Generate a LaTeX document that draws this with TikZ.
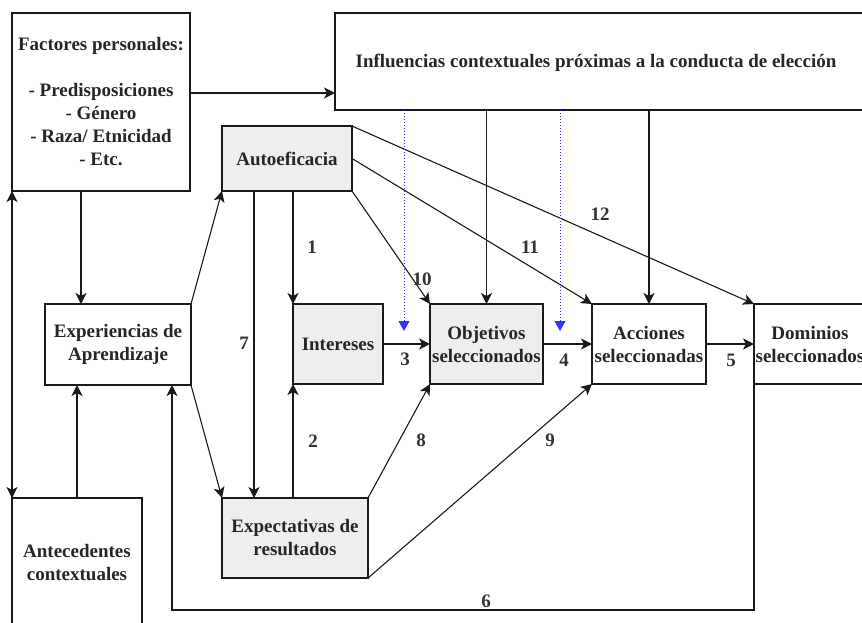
\documentclass[tikz,border=0pt]{standalone}
\usepackage{fontspec}
\setmainfont{Liberation Serif}
\usetikzlibrary{arrows.meta,calc}
\definecolor{boxgray}{HTML}{EEEEEE}
\definecolor{lineclr}{HTML}{1A1A1A}
\definecolor{dotblue}{HTML}{3333FF}
\tikzset{
  box/.style={draw=lineclr, line width=1.1pt, inner sep=0pt, outer sep=0pt, align=center,
    font=\bfseries\fontsize{19}{23}\selectfont, text=black!85},
  graybox/.style={box, fill=boxgray},
  tip/.style={},
  arr/.style={draw=lineclr, line width=1.1pt, -{Stealth[length=11pt,width=11pt,inset=3pt]}},
  dblarr/.style={draw=lineclr, line width=1.1pt, {Stealth[length=11pt,width=11pt,inset=3pt]}-{Stealth[length=11pt,width=11pt,inset=3pt]}},
  bluearr/.style={draw=dotblue, line width=1pt, dotted, -{Triangle[length=10pt,width=11pt]}},
  lbl/.style={inner sep=0pt, font=\bfseries\fontsize{19}{23}\selectfont, text=black!80},
}
\begin{document}
\begin{tikzpicture}[x=1pt,y=-1pt]
\useasboundingbox (0,0) rectangle (862,622);
\fill[white] (0,0) rectangle (862,622);
\clip (0,0) rectangle (862,622);

% boxes
\node[box, minimum width=178pt, minimum height=178pt] (fact) at (101,102)
  {Factores personales:\\[23pt]- Predisposiciones\\- Género\\- Raza/ Etnicidad\\- Etc.};
\node[box, minimum width=535pt, minimum height=97pt] (infl) at (602.5,61.5) {};
\node[lbl, text=black!85] (infltext) at (596,63) {Influencias contextuales próximas a la conducta de elección};
\node[graybox, minimum width=130pt, minimum height=65pt] (auto) at (287,158.5) {Autoeficacia};
\node[box, minimum width=146pt, minimum height=81pt] (exp) at (118,344.5) {Experiencias de\\Aprendizaje};
\node[graybox, minimum width=90pt, minimum height=80pt] (inter) at (338,344) {Intereses};
\node[graybox, minimum width=113pt, minimum height=80pt] (obj) at (486.5,344) {Objetivos\\seleccionados};
\node[box, minimum width=114pt, minimum height=80pt] (acc) at (649,344) {Acciones\\seleccionadas};
\node[box, minimum width=112pt, minimum height=80pt] (dom) at (810,344) {Dominios\\seleccionados};
\node[graybox, minimum width=146pt, minimum height=80pt] (expt) at (295,538) {Expectativas de\\resultados};
\node[box, minimum width=130pt, minimum height=130pt] (ant) at (77,563) {Antecedentes\\contextuales};

% connectors
\draw[arr] ([yshift=9pt]fact.east) -- ([yshift=-31.5pt]infl.west);
\draw[arr] ([xshift=-20pt]fact.south) -- ([xshift=-37pt]exp.north);
\draw[dblarr] (fact.south west) -- (ant.north west);
\draw[arr] (ant.north) -- (ant.north |- exp.south);
\draw[arr] (exp.north east) -- (auto.south west);
\draw[arr] (exp.south east) -- (expt.north west);
\draw[arr] ([xshift=-33pt]auto.south) -- ([xshift=-41pt]expt.north);
\draw[arr] (inter.north west |- auto.south) -- (inter.north west);
\draw[arr] (inter.south west |- expt.north) -- (inter.south west);
\draw[arr] (inter.east) -- (obj.west);
\draw[arr] (obj.east) -- (acc.west);
\draw[arr] (acc.east) -- (dom.west);
\draw[arr] (auto.south east) -- (obj.north west);
\draw[arr] (auto.east) -- (acc.north west);
\draw[arr] (auto.north east) -- (dom.north west);
\draw[arr] (obj.north |- infl.south) -- (obj.north);
\draw[arr] (acc.north |- infl.south) -- (acc.north);
\draw[arr] (expt.north east) -- (obj.south west);
\draw[arr] (expt.south east) -- (acc.south west);
\coordinate (fb) at (172,610);
\draw[arr] (dom.south west) |- (fb) -- (fb |- exp.south);

% blue dotted
\coordinate (b1) at (404,331);
\coordinate (b2) at (560,331);
\draw[bluearr] (b1 |- infl.south) -- (b1);
\draw[bluearr] (b2 |- infl.south) -- (b2);

% labels
\node[lbl] (l1) at (312,247) {1};
\node[lbl] (l2) at (313,441) {2};
\node[lbl] (l3) at (405,359) {3};
\node[lbl] (l4) at (564,360) {4};
\node[lbl] (l5) at (731,360) {5};
\node[lbl] (l6) at (486,601) {6};
\node[lbl] (l7) at (244,343) {7};
\node[lbl] (l8) at (421,440) {8};
\node[lbl] (l9) at (550,440) {9};
\node[lbl] (l10) at (422,279) {10};
\node[lbl] (l11) at (530,247) {11};
\node[lbl] (l12) at (600,214) {12};
\end{tikzpicture}
\end{document}
